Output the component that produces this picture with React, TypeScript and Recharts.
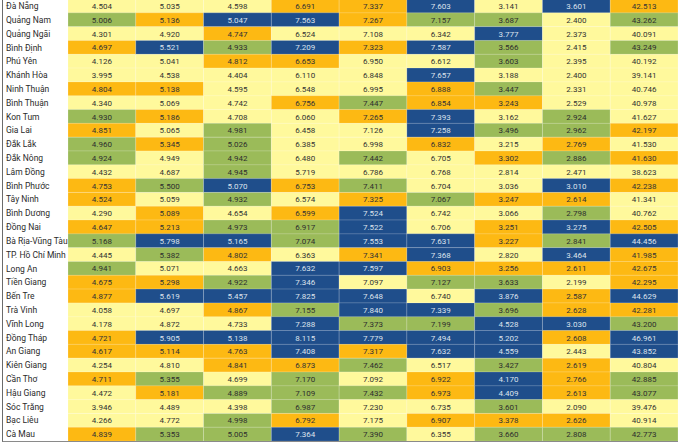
import React from 'react';
import { BarChart, Bar, XAxis, YAxis, Cell, LabelList } from 'recharts';

const provinces = [
  'Đà Nẵng', 'Quảng Nam', 'Quảng Ngãi', 'Bình Định', 'Phú Yên', 'Khánh Hòa', 'Ninh Thuận', 'Bình Thuận',
  'Kon Tum', 'Gia Lai', 'Đắk Lắk', 'Đắk Nông', 'Lâm Đồng', 'Bình Phước', 'Tây Ninh', 'Bình Dương',
  'Đồng Nai', 'Bà Rịa-Vũng Tàu', 'TP. Hồ Chí Minh', 'Long An', 'Tiền Giang', 'Bến Tre', 'Trà Vinh', 'Vĩnh Long',
  'Đồng Tháp', 'An Giang', 'Kiên Giang', 'Cần Thơ', 'Hậu Giang', 'Sóc Trăng', 'Bạc Liêu', 'Cà Mau',
];

const col1 = [4.504, 5.006, 4.301, 4.697, 4.126, 3.995, 4.804, 4.340, 4.930, 4.851, 4.960, 4.924, 4.432, 4.753, 4.524, 4.290, 4.647, 5.168, 4.445, 4.941, 4.675, 4.877, 4.058, 4.178, 4.721, 4.617, 4.254, 4.711, 4.472, 3.946, 4.266, 4.839];
const col2 = [5.035, 5.136, 4.920, 5.521, 5.041, 4.538, 5.138, 5.069, 5.186, 5.065, 5.345, 4.949, 4.687, 5.500, 5.059, 5.089, 5.213, 5.798, 5.382, 5.071, 5.298, 5.619, 4.697, 4.872, 5.905, 5.114, 4.810, 5.355, 5.181, 4.489, 4.772, 5.353];
const col3 = [4.598, 5.047, 4.747, 4.933, 4.812, 4.404, 4.595, 4.742, 4.708, 4.981, 5.026, 4.942, 4.945, 5.070, 4.932, 4.654, 4.973, 5.165, 4.802, 4.663, 4.922, 5.457, 4.867, 4.733, 5.138, 4.763, 4.841, 4.699, 4.889, 4.398, 4.998, 5.005];
const col4 = [6.691, 7.563, 6.524, 7.209, 6.653, 6.110, 6.548, 6.756, 6.060, 6.458, 6.385, 6.480, 5.719, 6.753, 6.574, 6.599, 6.917, 7.074, 6.363, 7.632, 7.346, 7.825, 7.155, 7.288, 8.115, 7.408, 6.873, 7.170, 7.109, 6.987, 6.792, 7.364];
const col5 = [7.337, 7.267, 7.108, 7.323, 6.950, 6.848, 6.995, 7.447, 7.265, 7.126, 6.998, 7.442, 6.786, 7.411, 7.325, 7.524, 7.522, 7.553, 7.341, 7.597, 7.097, 7.648, 7.840, 7.373, 7.779, 7.317, 7.462, 7.092, 7.432, 7.230, 7.175, 7.390];
const col6 = [7.603, 7.157, 6.342, 7.587, 6.612, 7.657, 6.888, 6.854, 7.393, 7.258, 6.832, 6.705, 6.768, 6.704, 7.067, 6.742, 6.706, 7.631, 7.368, 6.903, 7.127, 6.740, 7.339, 7.199, 7.494, 7.632, 6.517, 6.922, 6.973, 6.735, 6.907, 6.355];
const col7 = [3.141, 3.687, 3.777, 3.566, 3.603, 3.188, 3.447, 3.243, 3.162, 3.496, 3.215, 3.302, 2.814, 3.036, 3.247, 3.066, 3.251, 3.227, 2.820, 3.256, 3.633, 3.876, 3.696, 4.528, 5.202, 4.559, 3.427, 4.170, 4.409, 3.601, 3.378, 3.660];
const col8 = [3.601, 2.400, 2.373, 2.415, 2.395, 2.400, 2.331, 2.529, 2.924, 2.962, 2.769, 2.886, 2.471, 3.010, 2.614, 2.798, 3.275, 2.841, 3.464, 2.611, 2.199, 2.587, 2.628, 3.030, 2.608, 2.443, 2.619, 2.766, 2.613, 2.090, 2.626, 2.808];
const col9 = [42.513, 43.262, 40.091, 43.249, 40.192, 39.141, 40.746, 40.978, 41.627, 42.197, 41.530, 41.630, 38.623, 42.238, 41.341, 40.762, 42.505, 44.456, 41.985, 42.675, 42.295, 44.629, 42.281, 43.200, 46.961, 43.852, 40.804, 42.885, 43.077, 39.476, 40.914, 42.773];

// lower bounds of the 2nd, 3rd and 4th colour class in each column
const breaks = [
  [4.51, 4.9, 5.2],
  [5.08, 5.35, 5.51],
  [4.745, 4.88, 5.04],
  [6.59, 6.9, 7.19],
  [7.25, 7.36, 7.5],
  [6.8, 7.0, 7.22],
  [3.22, 3.4, 3.74],
  [2.56, 2.78, 3.0],
  [41.628, 42.7, 43.5],
];

const columns = [col1, col2, col3, col4, col5, col6, col7, col8, col9];
const fills = ['#FFF99C', '#FDB913', '#9BBB59', '#1F4E8B'];
const textFills = ['#333333', '#333333', '#2e2e2e', '#dce2ec'];
const FONT = 'Roboto, "Noto Sans", sans-serif';

const level = (col: number, v: number) => breaks[col].filter((b) => v >= b).length;

const rows = provinces.map((name, r) => {
  const row: any = { name };
  columns.forEach((c, i) => {
    row['s' + i] = 1;
    row['v' + i] = c[r];
  });
  return row;
});

const NameTick = ({ y, payload }: any) => (
  <text x={3} y={y} dy={3.2} textAnchor="start" fontSize={8.5} fill="#2b2b2b" fontFamily={FONT}>
    {payload.value}
  </text>
);

const valueLabel = (col: number) => (props: any) => {
  const { x, y, width, height, value } = props;
  return (
    <text
      x={x + width / 2}
      y={y + height / 2}
      dy={3}
      textAnchor="middle"
      fontSize={8}
      fontFamily={FONT}
      fill={textFills[level(col, value)]}
    >
      {Number(value).toFixed(3)}
    </text>
  );
};

export default function App() {
  return (
    <div style={{ position: 'relative', width: 680, height: 444, background: '#fff', overflow: 'hidden' }}>
      <style>{'body{margin:0}'}</style>
      <div
        style={{
          position: 'absolute',
          left: 2,
          top: -1,
          width: 676,
          height: 443,
          borderLeft: '1px solid #6b6b6b',
          borderBottom: '1px solid #8a8a8a',
          boxSizing: 'border-box',
        }}
      >
        <BarChart
          width={675}
          height={442}
          data={rows}
          layout="vertical"
          margin={{ top: 0, right: 0, bottom: 0, left: 0 }}
          barCategoryGap={0}
          barGap={0}
        >
          <XAxis type="number" hide domain={[0, 9]} />
          <YAxis
            type="category"
            dataKey="name"
            width={65}
            axisLine={false}
            tickLine={false}
            interval={0}
            tick={NameTick}
          />
          {columns.map((c, i) => (
            <Bar
              key={i}
              dataKey={'s' + i}
              stackId="t"
              isAnimationActive={false}
              stroke="rgba(255,255,255,0.3)"
              strokeWidth={0.6}
            >
              {c.map((v, r) => (
                <Cell key={r} fill={fills[level(i, v)]} />
              ))}
              <LabelList dataKey={'v' + i} content={valueLabel(i)} />
            </Bar>
          ))}
        </BarChart>
      </div>
    </div>
  );
}
